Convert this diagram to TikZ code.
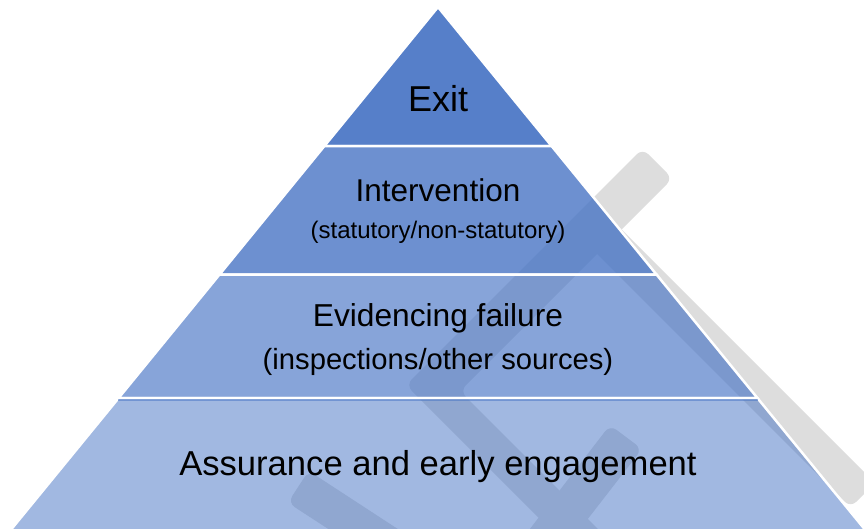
\documentclass[tikz,border=0pt]{standalone}
\usepackage{fontspec}
\setmainfont{Liberation Sans}
\definecolor{tierblue}{HTML}{4472C4}
\definecolor{wmgray}{HTML}{DDDDDD}
\tikzset{
  wm/.style={fill=wmgray, rounded corners=8pt},
  tier/.style={fill=tierblue, draw=white, line width=2.5pt, line join=miter},
  lbl/.style={anchor=base, inner sep=0pt, text=black},
}
\begin{document}
\begin{tikzpicture}[x=1pt,y=-1pt]
\useasboundingbox (0,0) rectangle (864,528);
\fill[white] (0,0) rectangle (864,528);
\begin{scope}
\clip (0,0) rectangle (864,528);
% watermark shapes behind the pyramid
\fill[wm] (642.5,148.5) -- (672.5,178.5) -- (460,391) -- (629,560) -- (581,560) -- (406,385) -- cycle;
\fill[wm] (581.5,238.5) -- (606,214) -- (875,483) -- (850.5,507.5) -- cycle;
\fill[wm] (610,425) -- (642,449) -- (556,560) -- (506,560) -- cycle;
\fill[wm] (308.6,470.8) -- (476,580) -- (456,612) -- (287.9,502.7) -- cycle;
% pyramid tiers
\path[tier, fill opacity=0.9] (438,7) -- (551.6,146) -- (324.4,146) -- cycle;
\path[tier, fill opacity=0.78] (324.4,146) -- (551.6,146) -- (656.5,274.5) -- (219.5,274.5) -- cycle;
\path[tier, fill opacity=0.64] (219.5,274.5) -- (656.5,274.5) -- (757.4,398) -- (118.6,398) -- cycle;
\path[tier, fill opacity=0.5] (118.6,398) -- (757.4,398) -- (873.5,540) -- (2.5,540) -- cycle;
\draw[tierblue, opacity=0.5, line width=2pt] (118,400.4) -- (758,400.4);
\end{scope}
% labels
\node[lbl, font=\fontsize{36}{36}\selectfont] (exit) at (438,111.7) {Exit};
\node[lbl, font=\fontsize{31.5}{31.5}\selectfont] (interv) at (438,201) {Intervention};
\node[lbl, font=\fontsize{24}{24}\selectfont] (stat) at (438,238) {(statutory/non-statutory)};
\node[lbl, font=\fontsize{31.7}{31.7}\selectfont] (evid) at (438,326.5) {Evidencing failure};
\node[lbl, font=\fontsize{29.2}{29.2}\selectfont] (insp) at (438,369) {(inspections/other sources)};
\node[lbl, font=\fontsize{34.6}{34.6}\selectfont] (assur) at (438,475) {Assurance and early engagement};
\end{tikzpicture}
\end{document}
